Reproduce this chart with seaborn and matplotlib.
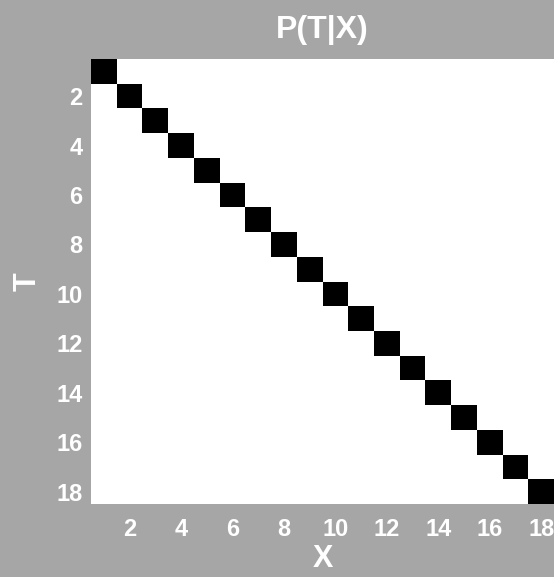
import numpy as np
import pandas as pd
import matplotlib
matplotlib.use('Agg')
import matplotlib.pyplot as plt
import seaborn as sns

# P(T|X): states 1..18, all mass on the diagonal
t_states = list(range(1, 19))
x_states = list(range(1, 19))
diag_prob = [1.0] * 18
tick_labels = ['2', '4', '6', '8', '10', '12', '14', '16', '18']

bg = '#a6a6a6'

sns.set_theme(style='white')
plt.rcParams['font.family'] = ['Liberation Sans', 'DejaVu Sans']
plt.rcParams['font.weight'] = 'bold'

prob = pd.DataFrame(np.diag(diag_prob), index=t_states, columns=x_states)

fig = plt.figure(figsize=(5.54, 5.77), dpi=100, facecolor=bg)
ax = fig.add_axes([91 / 554, 73 / 577, 463 / 554, 445 / 577])

sns.heatmap(prob, ax=ax, cmap='gray_r', vmin=0, vmax=1, cbar=False,
            xticklabels=False, yticklabels=False)

pos = [int(t) - 0.5 for t in tick_labels]
ax.set_xticks(pos)
ax.set_xticklabels(tick_labels)
ax.set_yticks(pos)
ax.set_yticklabels(tick_labels, rotation=0)
ax.tick_params(axis='x', length=0, pad=10, labelsize=17, labelcolor='white')
ax.tick_params(axis='y', length=0, pad=6, labelsize=17, labelcolor='white')

ax.set_xlabel('X', fontsize=22, color='white', fontweight='bold', labelpad=2)
ax.set_ylabel('T', fontsize=22, color='white', fontweight='bold', labelpad=10)
ax.set_title('P(T|X)', fontsize=23, color='white', fontweight='bold', pad=15)

plt.savefig('out.png', dpi=100, facecolor=bg)
